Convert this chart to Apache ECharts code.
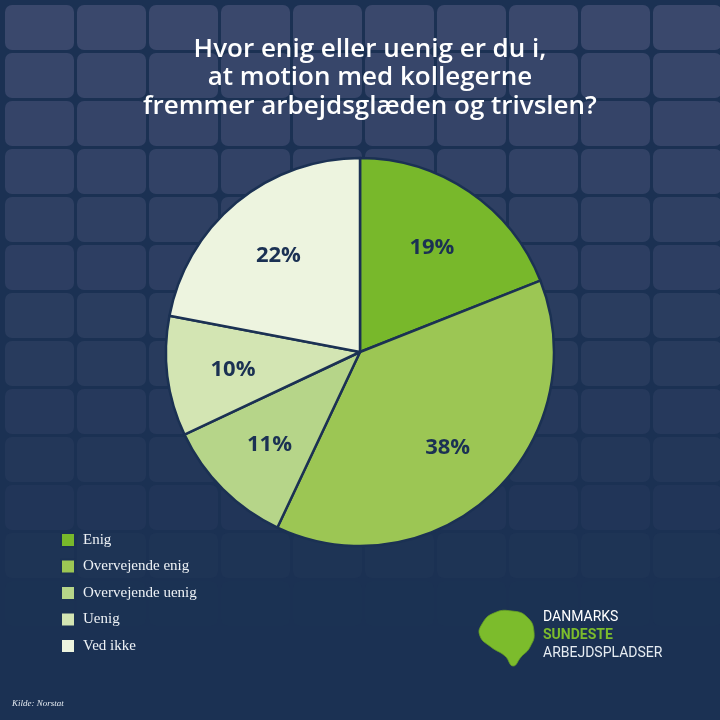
<!DOCTYPE html>
<html>
<head>
<meta charset="utf-8">
<script src="https://cdn.jsdelivr.net/npm/echarts@6/dist/echarts.min.js"></script>
<style>
  html, body { margin: 0; padding: 0; background: #1b3153; }
  #chart { width: 720px; height: 720px; }
</style>
</head>
<body>
<div id="chart"></div>
<script>
// svar-kategorier og andele (%)
var categories = ['Enig', 'Overvejende enig', 'Overvejende uenig', 'Uenig', 'Ved ikke'];
var shares = [19, 38, 11, 10, 22];
var sliceColors = ['#78b82b', '#9cc654', '#b6d589', '#d3e5b3', '#edf4df'];
var titleLines = ['Hvor enig eller uenig er du i,', 'at motion med kollegerne', 'fremmer arbejdsglæden og trivslen?'];

var chart = echarts.init(document.getElementById('chart'));

/** baggrundsfliser, svinder ud mod bunden */
function tiles() {
  var out = [];
  for (var row = 0; row < 15; row++) {
    var op = Math.max(0, 1 - row / 12.5);
    for (var col = 0; col < 10; col++) {
      out.push({
        type: 'rect',
        silent: true,
        z: -10,
        shape: { x: 5 + col * 72, y: 5 + row * 48, width: 69, height: 45, r: 7 },
        style: { fill: '#3a486c', opacity: op }
      });
    }
  }
  return out;
}

var data = categories.map(function (name, i) {
  return { name: name, value: shares[i], itemStyle: { color: sliceColors[i] } };
});

var graphics = tiles().concat([
  {
    type: 'text', x: 370, y: 35, z: 5,
    style: {
      text: titleLines.join('\n'), fill: '#ffffff', align: 'center',
      font: '600 26px "Open Sans", sans-serif', lineHeight: 28.5
    }
  },
  {
    type: 'text', x: 12, y: 699, z: 5,
    style: { text: 'Kilde: Norstat', fill: '#e6ecf2', font: 'italic 9px "Liberation Serif", serif' }
  },
  {
    // logo-klat
    type: 'polygon', z: 5,
    shape: {
      smooth: 0.5,
      points: [[482, 624], [494, 613], [512, 611], [527, 617], [534, 632], [530, 647], [521, 657], [513, 666], [505, 656], [491, 647], [480, 636]]
    },
    style: { fill: '#7cbc2c', stroke: '#66a024', lineWidth: 0.8 }
  },
  {
    type: 'text', x: 543, y: 610, z: 5,
    style: { text: 'DANMARKS', fill: '#ffffff', font: '14px Roboto, sans-serif' }
  },
  {
    type: 'text', x: 543, y: 628, z: 5,
    style: { text: 'SUNDESTE', fill: '#7cbc2c', font: 'bold 14px Roboto, sans-serif' }
  },
  {
    type: 'text', x: 543, y: 646, z: 5,
    style: { text: 'ARBEJDSPLADSER', fill: '#e6ecf2', font: '14px Roboto, sans-serif' }
  }
]);

chart.setOption({
  backgroundColor: '#1b3153',
  animation: false,
  graphic: graphics,
  legend: {
    orient: 'vertical',
    left: 60,
    top: 532,
    padding: 0,
    icon: 'rect',
    itemWidth: 14,
    itemHeight: 14,
    itemGap: 10.5,
    data: categories,
    textStyle: { color: '#eef2f6', fontSize: 15, fontFamily: '"Liberation Serif", serif', padding: [0, 0, 0, 3] }
  },
  series: [
    {
      type: 'pie',
      center: [360, 352],
      radius: [0, 194],
      startAngle: 90,
      clockwise: true,
      label: { show: false },
      labelLine: { show: false },
      itemStyle: { borderColor: '#1b3153', borderWidth: 2.5 },
      emphasis: { disabled: true },
      data: data
    },
    {
      // usynlig ring kun til procent-etiketterne
      type: 'pie',
      center: [360, 354],
      radius: [0, 250],
      startAngle: 90,
      clockwise: true,
      silent: true,
      z: 3,
      itemStyle: { color: 'transparent', borderWidth: 0 },
      label: {
        show: true,
        position: 'inside',
        formatter: '{c}%',
        color: '#1b3153',
        fontSize: 22,
        fontWeight: 'bold',
        fontFamily: '"Open Sans", sans-serif'
      },
      labelLine: { show: false },
      emphasis: { disabled: true },
      data: categories.map(function (name, i) {
        return { name: name, value: shares[i], itemStyle: { color: 'transparent' } };
      })
    }
  ]
});
</script>
</body>
</html>
